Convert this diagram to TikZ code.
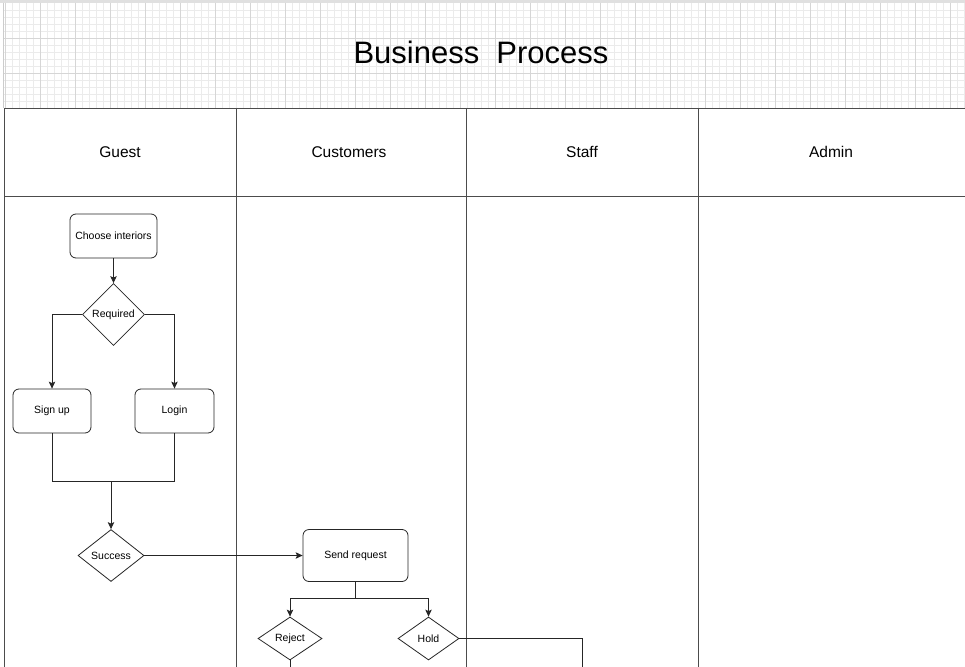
\documentclass[tikz,border=0pt]{standalone}
\usepackage{fontspec}
\setmainfont{Liberation Sans}
\usetikzlibrary{arrows.meta,%
                shapes.geometric}

\begin{document}
\begin{tikzpicture}[x=1pt,y=-1pt,>={Stealth[length=7pt,width=6.5pt,inset=1.5pt]},line width=0.8pt]
  \tikzstyle{gridminor}=[draw=black!8,line width=0.6pt]
  \tikzstyle{gridmajor}=[draw=black!16,line width=0.6pt]
  \tikzstyle{lane}=[draw=black!70,line width=0.9pt]
  \tikzstyle{lanetitle}=[font=\fontsize{15.5}{18}\selectfont]
  \tikzstyle{task}=[draw=black!85,rounded corners=6pt,inner sep=0pt,
                    font=\fontsize{10.5}{12}\selectfont]
  \tikzstyle{choice}=[draw=black!85,diamond,aspect=1,inner sep=0pt,
                      font=\fontsize{10.5}{12}\selectfont]
  \tikzstyle{flow}=[draw=black!85,->]

  \useasboundingbox (0,0) rectangle (965,666);
  \clip (0,0) rectangle (965,666);
  \fill[white] (0,0) rectangle (965,666);

  % background grid
  \fill[black!12] (0,0) rectangle (965,3);
  \draw[black!20] (3.5,3) -- (3.5,108);
  \foreach \x in {12,19,...,964} \draw[gridminor] (\x,3) -- (\x,108);
  \foreach \y in {10,17,...,106} \draw[gridminor] (4,\y) -- (965,\y);
  \foreach \x in {5,40,...,964} \draw[gridmajor] (\x,3) -- (\x,108);
  \foreach \y in {38,73} \draw[gridmajor] (4,\y) -- (965,\y);

  \node[font=\fontsize{31}{36}\selectfont] (title) at (481,52) {Business\ \ Process};

  % swimlanes
  \fill[white] (4,108) rectangle (990,690);
  \draw[lane] (4,108) rectangle (990,690);
  \draw[lane] (4,196) -- (990,196);
  \draw[lane] (236,108) -- (236,690);
  \draw[lane] (466,108) -- (466,690);
  \draw[lane] (698,108) -- (698,690);

  \node[lanetitle] (guest) at (120,152) {Guest};
  \node[lanetitle] (customers) at (349,152) {Customers};
  \node[lanetitle] (staff) at (582,152) {Staff};
  \node[lanetitle] (admin) at (831,152) {Admin};

  % steps
  \node[task,minimum width=87pt,minimum height=44pt] (choose) at (113.5,236) {Choose interiors};
  \node[choice,minimum width=62pt,minimum height=62pt] (required) at (113.5,314.5) {Required};
  \node[task,minimum width=78pt,minimum height=44pt] (signup) at (52,411) {Sign up};
  \node[task,minimum width=79pt,minimum height=44pt] (login) at (174.5,411) {Login};
  \node[choice,minimum width=66pt,minimum height=52pt] (success) at (111,555.5) {Success};
  \node[task,minimum width=105pt,minimum height=52pt] (send) at (355.5,555.5) {Send request};
  \node[choice,minimum width=64pt,minimum height=43pt] (reject) at (290,638.5) {Reject};
  \node[choice,minimum width=61pt,minimum height=43pt] (hold) at (428.5,638.5) {Hold};

  \coordinate (merge) at (111,481);
  \coordinate (fork) at (355.5,598);
  \coordinate (rejectout) at (290,690);
  \coordinate (holdout) at (582,690);

  \draw[flow] (choose) -- (required);
  \draw[flow] (required.west) -| (signup.north);
  \draw[flow] (required.east) -| (login.north);
  \draw[draw=black!85] (signup.south) |- (login.south |- merge) -- (login.south);
  \draw[flow] (merge) -- (success.north);
  \draw[flow] (success.east) -- (send.west);
  \draw[draw=black!85] (send.south) -- (fork);
  \draw[flow] (fork) -| (reject.north);
  \draw[flow] (fork) -| (hold.north);
  \draw[draw=black!85] (reject.south) -- (rejectout);
  \draw[draw=black!85] (hold.east) -| (holdout);

\end{tikzpicture}
\end{document}
